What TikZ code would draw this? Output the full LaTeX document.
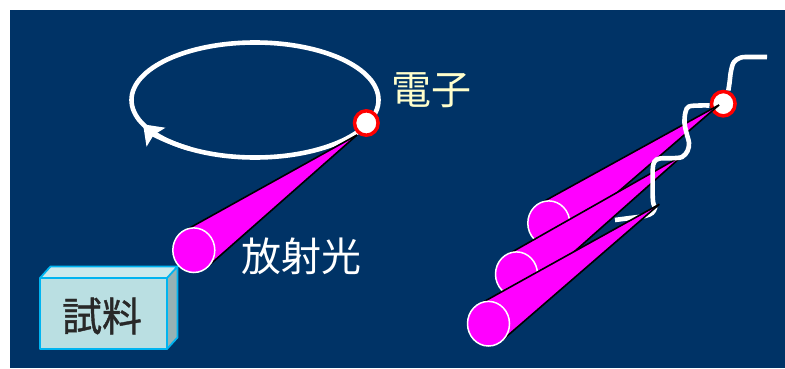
\documentclass[tikz,border=0pt]{standalone}
\usepackage{fontspec}
\newfontfamily\jpfont{Noto Sans CJK JP}
\newfontface\jpmed{Noto Sans CJK JP}[FakeBold=1]
\usetikzlibrary{arrows.meta,calc,shapes.geometric}
\definecolor{navy}{RGB}{0,51,102}
\definecolor{beam}{RGB}{255,0,255}
\definecolor{cream}{RGB}{255,255,204}
\definecolor{boxfront}{RGB}{186,223,226}
\definecolor{boxtop}{RGB}{204,234,236}
\definecolor{boxside}{RGB}{150,178,180}
\definecolor{boxline}{RGB}{0,180,240}
\definecolor{ink}{RGB}{40,40,40}

% one radiation cone: #1 = apex coordinate, #2 = circular base node
\newcommand\drawbeam[2]{%
  \path (tangent cs:node=#2,point={(#1)},solution=1) coordinate (#2-t1)
        (tangent cs:node=#2,point={(#1)},solution=2) coordinate (#2-t2);
  \fill[beam] (#1) -- (#2-t1) -- (#2-t2) -- cycle;
  \draw[beamedge] (#2-t1) -- (#1);
  \draw[beamedge] (#2-t2) -- (#1);
  \draw[beambase] (#2.center) ellipse[x radius=21, y radius=22.3];
}

\begin{document}
\begin{tikzpicture}[x=1pt,y=1pt,
  orbit/.style={draw=white, line width=4.6pt},
  wiggle/.style={draw=white, line width=4.6pt},
  electron/.style={ellipse, draw=red, fill=white, line width=3.5pt,
    minimum width=23.6pt, minimum height=24.4pt, inner sep=0pt},
  beamedge/.style={draw=black, line width=1.6pt},
  beambase/.style={fill=beam, draw=white, line width=1.5pt},
  basept/.style={circle, minimum size=43pt, inner sep=0pt, outer sep=0pt},
  jptext/.style={font=\jpfont\fontsize{40}{40}\selectfont, inner sep=0pt},
]
% page and slide background
\fill[white] (0,0) rectangle (785,368);
\fill[navy] (10,0) rectangle (785,358);
\useasboundingbox (0,0) rectangle (785,368);

% ---------- storage ring ----------
\draw[orbit] (255,268) ellipse[x radius=123.5, y radius=57.5];
\draw[orbit, -{Stealth[length=18pt,width=26pt,inset=3pt]}]
  (255,268) ++(238:123.5 and 57.5)
  arc[start angle=238, end angle=205, x radius=123.5, y radius=57.5];

% sample block
\fill[boxtop] (40,90) -- (50.5,101.5) -- (177.5,101.5) -- (167,90) -- cycle;
\fill[boxside] (167,90) -- (177.5,101.5) -- (177.5,30.5) -- (167,19) -- cycle;
\fill[boxfront] (40,19) rectangle (167,90);
\draw[boxline, line width=1.8pt, line join=round]
  (40,19) -- (40,90) -- (50.5,101.5) -- (177.5,101.5) -- (177.5,30.5) -- (167,19) -- cycle
  (40,90) -- (167,90) -- (177.5,101.5) (167,90) -- (167,19);
\node[jptext, font=\jpmed\fontsize{40}{40}\selectfont, text=ink] (sample) at (102,52) {試料};

% beam from the bending magnet
\node[basept] (bL) at (193.8,117.8) {};
\coordinate (aL) at (357,233);
\drawbeam{aL}{bL}
\node[electron] (eL) at (366.3,245) {};

\node[jptext, text=cream] (denshi) at (431.5,278) {電子};
\node[jptext, text=white] (hosha) at (301,112) {放射光};

% ---------- undulator ----------
\node[electron] (eR) at (723.3,264.3) {};
\node[basept] (bA) at (548.8,144.8) {};
\node[basept] (bB) at (516.5,93.8) {};
\node[basept] (bC) at (488.5,44.3) {};
\coordinate (aA) at (719,263);
\coordinate (aB) at (683.3,213);
\coordinate (aC) at (659.3,163.7);
\drawbeam{aA}{bA}
\drawbeam{aB}{bB}

% electron trajectory
\draw[wiggle] plot[smooth, tension=0.55] coordinates
  {(767,311) (752,311) (741,310.5) (734,306) (731,297) (729.5,285) (728.3,277.5)};
\draw[wiggle] plot[smooth, tension=0.55] coordinates
  {(709.5,262.5) (700,262.5) (689,261.5) (685.5,256) (684.5,245) (686.5,235)
   (689,225) (687.5,217) (682,211) (672,209.8) (660,209.5) (654.5,206.5)
   (652.7,198) (652.7,172) (653.5,164) (655,160) (652,155) (645,152)
   (630,150) (615,148)};

\drawbeam{aC}{bC}
\end{tikzpicture}
\end{document}
